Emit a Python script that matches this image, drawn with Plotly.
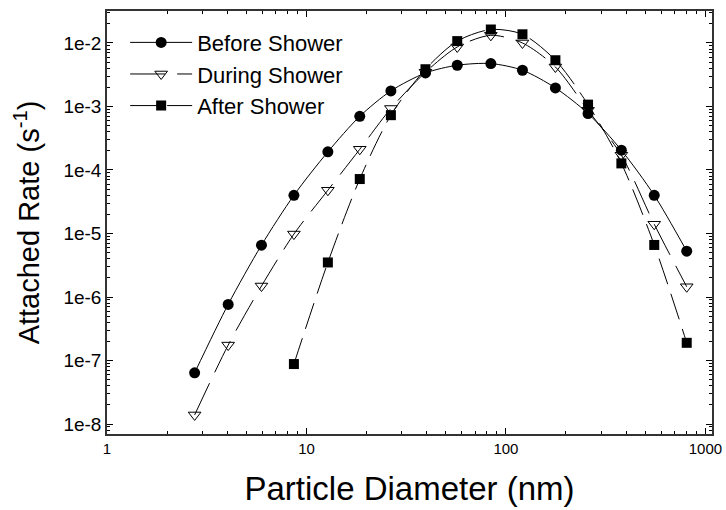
import plotly.graph_objects as go

# Particle diameter (nm) for each size bin
diam = [2.75, 4.05, 5.95, 8.65, 12.8, 18.5, 26.5, 39.5, 57, 84, 121, 177, 258, 379, 554, 806]

before = [6.4e-8, 7.65e-7, 6.56e-6, 4.0e-5, 1.93e-4, 7.0e-4, 1.76e-3, 3.37e-3,
          4.46e-3, 4.74e-3, 3.72e-3, 1.96e-3, 7.74e-4, 2.05e-4, 4.0e-5, 5.27e-6]
during = [1.39e-8, 1.75e-7, 1.49e-6, 9.8e-6, 4.8e-5, 2.12e-4, 9.3e-4, 3.46e-3,
          8.65e-3, 1.32e-2, 1.0e-2, 4.19e-3, 8.7e-4, 1.71e-4, 1.4e-5, 1.45e-6]
diam_after = [8.65, 12.8, 18.5, 26.5, 39.5, 57, 84, 121, 177, 258, 379, 554, 806]
after = [8.8e-8, 3.5e-6, 7.2e-5, 7.3e-4, 3.86e-3, 1.07e-2, 1.63e-2, 1.37e-2,
         5.35e-3, 1.07e-3, 1.27e-4, 6.6e-6, 1.9e-7]

x_tickvals = [1, 10, 100, 1000]
x_ticktext = ["1", "10", "100", "1000"]
y_tickvals = [1e-8, 1e-7, 1e-6, 1e-5, 1e-4, 1e-3, 1e-2]
y_ticktext = ["1e-8", "1e-7", "1e-6", "1e-5", "1e-4", "1e-3", "1e-2"]

FONT = "Liberation Sans, Arial, Helvetica, sans-serif"

fig = go.Figure()
fig.add_trace(go.Scatter(
    x=diam, y=before, name="Before Shower", mode="lines+markers",
    line=dict(color="black", width=1, shape="spline", smoothing=0.8),
    marker=dict(symbol="circle", size=11, color="black"),
))
fig.add_trace(go.Scatter(
    x=diam, y=during, name="During Shower", mode="lines+markers",
    line=dict(color="black", width=1, dash="35px,12px", shape="spline", smoothing=0.8),
    marker=dict(symbol="triangle-down-open", size=11, color="black", line=dict(width=1, color="black")),
))
fig.add_trace(go.Scatter(
    x=diam_after, y=after, name="After Shower", mode="lines+markers",
    line=dict(color="black", width=1, dash="27px,10px", shape="spline", smoothing=0.8),
    marker=dict(symbol="square", size=10, color="black"),
))

axis_common = dict(
    showgrid=False, zeroline=False, showline=True, linecolor="#333333", linewidth=1.5,
    mirror="allticks", ticks="inside", ticklen=6, tickwidth=1, tickcolor="black",
    automargin=False,
)

fig.update_xaxes(
    type="log", range=[0, 3.033],
    tickvals=x_tickvals, ticktext=x_ticktext,
    tickfont=dict(family=FONT, size=15, color="black"),
    minor=dict(ticks="inside", ticklen=3, tickcolor="black", dtick="D1", showgrid=False),
    title=dict(text="Particle Diameter (nm)", font=dict(family=FONT, size=33, color="black"), standoff=21),
    **axis_common,
)
fig.update_yaxes(
    type="log", range=[-8.157, -1.4965],
    tickvals=y_tickvals, ticktext=y_ticktext,
    tickfont=dict(family=FONT, size=19, color="black"),
    minor=dict(ticks="inside", ticklen=3, tickcolor="black", dtick="D1", showgrid=False),
    title=dict(text="Attached Rate (s<sup>-1</sup>)", font=dict(family=FONT, size=29, color="black"), standoff=15),
    **axis_common,
)

fig.update_layout(
    width=726, height=510,
    margin=dict(l=107, r=14, t=11, b=76),
    paper_bgcolor="white", plot_bgcolor="white",
    showlegend=True,
    legend=dict(
        x=0.03, y=0.975, xanchor="left", yanchor="top",
        font=dict(family=FONT, size=22, color="black"),
        bgcolor="rgba(0,0,0,0)", borderwidth=0, tracegroupgap=0,
        itemwidth=62,
    ),
    font=dict(family=FONT, color="black"),
)

fig.write_html("out.html")
